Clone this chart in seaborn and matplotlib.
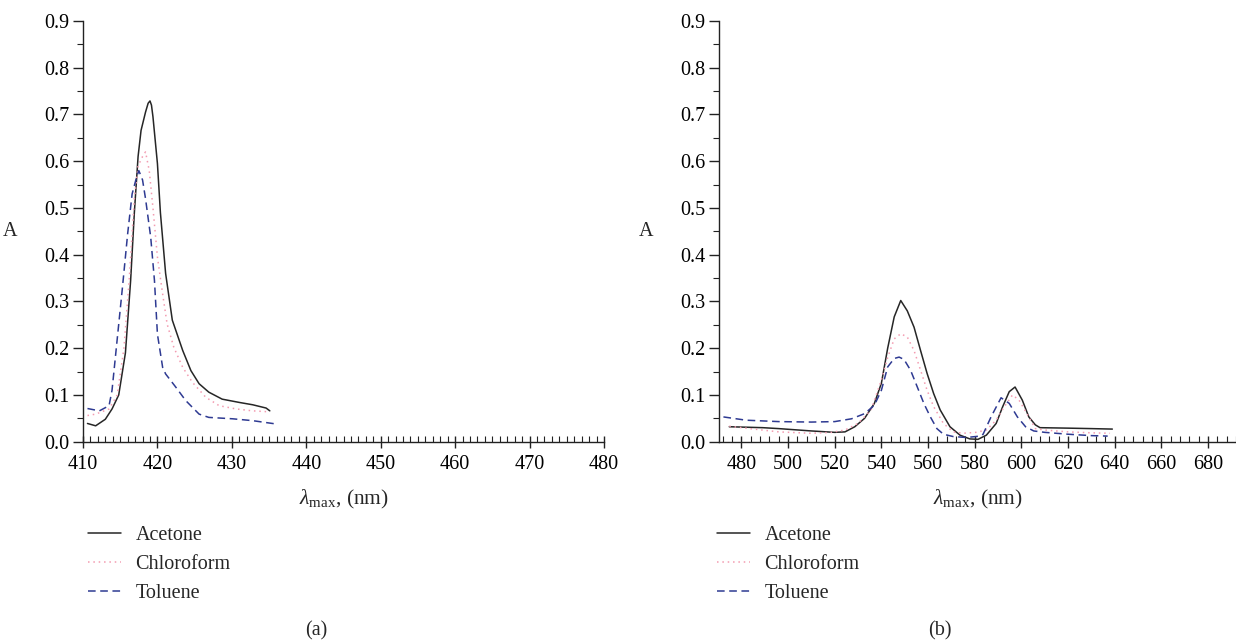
import numpy as np
import pandas as pd
import matplotlib
matplotlib.use("Agg")
import matplotlib.pyplot as plt
import seaborn as sns
from matplotlib.ticker import MultipleLocator

# ---------------- data: panel (a) ----------------
a_acetone_x = [410.6, 411.7, 413.0, 413.9, 414.8, 415.7, 416.4, 416.9, 417.4, 417.8, 418.4,
               418.75, 419.0, 419.2, 419.4, 420.0, 420.4, 421.1, 422.0, 423.4, 424.5, 425.6,
               426.9, 428.7, 431.0, 432.8, 434.6, 435.1]
a_acetone_y = [0.039, 0.034, 0.048, 0.070, 0.100, 0.190, 0.345, 0.490, 0.610, 0.666, 0.705,
               0.724, 0.729, 0.720, 0.695, 0.595, 0.490, 0.360, 0.260, 0.195, 0.152, 0.124,
               0.106, 0.091, 0.084, 0.079, 0.072, 0.066]
a_chloro_x = [410.6, 411.7, 413.5, 414.6, 415.5, 416.2, 416.9, 417.4, 418.0, 418.4, 418.9,
              419.4, 420.0, 420.7, 421.3, 422.2, 423.4, 424.7, 426.5, 428.3, 430.6, 432.8, 435.0]
a_chloro_y = [0.056, 0.059, 0.070, 0.100, 0.200, 0.345, 0.520, 0.590, 0.610, 0.620, 0.580,
              0.500, 0.395, 0.316, 0.252, 0.202, 0.159, 0.127, 0.095, 0.077, 0.070, 0.066, 0.064]
a_toluene_x = [410.6, 412.2, 413.5, 413.9, 414.6, 415.3, 416.0, 416.6, 417.1, 417.5, 418.0,
               418.4, 419.1, 419.6, 420.0, 420.7, 421.1, 422.5, 423.8, 425.6, 426.9, 430.1,
               432.8, 435.9]
a_toluene_y = [0.071, 0.066, 0.077, 0.110, 0.220, 0.330, 0.445, 0.530, 0.560, 0.580, 0.560,
               0.520, 0.437, 0.345, 0.230, 0.159, 0.145, 0.116, 0.088, 0.059, 0.052, 0.049,
               0.045, 0.038]

# ---------------- data: panel (b) ----------------
b_acetone_x = [474.8, 489.2, 496.0, 510.0, 520.0, 524.4, 528.6, 532.8, 537.0, 540.0, 542.7,
               545.5, 548.3, 551.1, 554.0, 556.8, 559.6, 562.4, 565.2, 569.4, 573.7, 577.9,
               581.4, 585.0, 589.2, 592.0, 594.8, 597.3, 600.4, 603.2, 606.0, 608.0, 620.0,
               630.0, 639.0]
b_acetone_y = [0.032, 0.030, 0.028, 0.023, 0.020, 0.021, 0.032, 0.050, 0.082, 0.125, 0.200,
               0.267, 0.302, 0.280, 0.245, 0.195, 0.146, 0.103, 0.068, 0.032, 0.014, 0.006,
               0.005, 0.014, 0.039, 0.075, 0.107, 0.117, 0.089, 0.053, 0.036, 0.030, 0.029,
               0.028, 0.027]
b_chloro_x = [474.8, 496.0, 510.0, 518.7, 524.4, 530.0, 535.6, 540.0, 542.7, 545.5, 548.3,
              551.1, 554.0, 556.8, 559.6, 562.4, 566.6, 570.8, 575.0, 580.6, 585.0, 589.2,
              592.7, 596.2, 599.0, 603.2, 606.0, 610.0, 620.0, 630.0, 638.0]
b_chloro_y = [0.033, 0.021, 0.018, 0.020, 0.025, 0.039, 0.068, 0.132, 0.180, 0.220, 0.231,
              0.224, 0.195, 0.153, 0.110, 0.075, 0.039, 0.021, 0.018, 0.020, 0.025, 0.046,
              0.075, 0.100, 0.089, 0.053, 0.028, 0.025, 0.021, 0.019, 0.018]
b_toluene_x = [472.3, 482.0, 496.0, 510.0, 520.0, 527.2, 532.8, 537.0, 540.0, 542.7, 545.5,
               547.6, 549.7, 552.5, 555.4, 558.2, 561.0, 563.8, 566.6, 570.8, 576.5, 582.2,
               583.6, 587.0, 591.3, 594.8, 598.3, 601.8, 605.3, 610.0, 620.0, 630.0, 637.0]
b_toluene_y = [0.053, 0.046, 0.043, 0.042, 0.043, 0.049, 0.060, 0.078, 0.110, 0.160, 0.178,
               0.181, 0.176, 0.153, 0.117, 0.082, 0.053, 0.028, 0.016, 0.011, 0.009, 0.012,
               0.016, 0.053, 0.094, 0.082, 0.053, 0.032, 0.023, 0.020, 0.016, 0.013, 0.012]

solvents = ["Acetone", "Chloroform", "Toluene"]
colors = {"Acetone": "#262626", "Chloroform": "#f39bb0", "Toluene": "#2e3a92"}
dashes = {"Acetone": "", "Chloroform": (1, 2.5), "Toluene": (5, 3)}


def make_df(xs, ys):
    frames = []
    for name, x, y in zip(solvents, xs, ys):
        frames.append(pd.DataFrame({"wl": x, "A": y, "solvent": name}))
    return pd.concat(frames, ignore_index=True)


df_a = make_df([a_acetone_x, a_chloro_x, a_toluene_x], [a_acetone_y, a_chloro_y, a_toluene_y])
df_b = make_df([b_acetone_x, b_chloro_x, b_toluene_x], [b_acetone_y, b_chloro_y, b_toluene_y])

sns.set_theme(style="ticks")
plt.rcParams["font.family"] = ["Liberation Serif", "DejaVu Serif"]
plt.rcParams["mathtext.fontset"] = "custom"
plt.rcParams["mathtext.rm"] = "Liberation Serif"
plt.rcParams["mathtext.it"] = "Liberation Serif:italic"
plt.rcParams["axes.edgecolor"] = "#222222"
plt.rcParams["lines.solid_joinstyle"] = "round"

FS = 14.5
W, H = 1236, 641
fig = plt.figure(figsize=(W / 100, H / 100), dpi=100)

ax_a = fig.add_axes([83 / W, 1 - 441.7 / H, (604 - 83) / W, (441.7 - 21) / H])
ax_b = fig.add_axes([719 / W, 1 - 441.7 / H, (1236 - 719) / W, (441.7 - 21) / H])

panels = [
    (ax_a, df_a, (410, 480), 10, 1, 88, "(a)", 316),
    (ax_b, df_b, (470.4, 692), 20, 4, 717, "(b)", 940),
]

for ax, df, xlim, xmaj, xmin, leg_x, tag, tag_x in panels:
    sns.lineplot(data=df, x="wl", y="A", hue="solvent", style="solvent",
                 palette=colors, dashes=dashes, sort=False, estimator=None,
                 linewidth=1.1, ax=ax, legend=True)
    ax.set_xlim(*xlim)
    ax.set_ylim(0, 0.9)
    ax.xaxis.set_major_locator(MultipleLocator(xmaj))
    ax.xaxis.set_minor_locator(MultipleLocator(xmin))
    ax.yaxis.set_major_locator(MultipleLocator(0.1))
    ax.yaxis.set_minor_locator(MultipleLocator(0.05))
    ax.yaxis.set_major_formatter(matplotlib.ticker.FormatStrFormatter("%.1f"))
    for s in ["top", "right"]:
        ax.spines[s].set_visible(False)
    for s in ["left", "bottom"]:
        ax.spines[s].set_linewidth(1.0)
    ax.tick_params(axis="x", which="both", bottom=True, top=False)
    ax.tick_params(axis="y", which="both", left=True, right=False)
    ax.tick_params(axis="x", which="major", direction="inout", length=9, width=1,
                   labelsize=FS, pad=5, color="#222222", labelcolor="black")
    ax.tick_params(axis="x", which="minor", direction="in", length=4, width=0.8,
                   color="#222222")
    ax.tick_params(axis="y", which="major", direction="out", length=7, width=1,
                   labelsize=FS, pad=3, color="#222222", labelcolor="black")
    ax.tick_params(axis="y", which="minor", direction="out", length=4, width=0.8,
                   color="#222222")
    ax.set_xlabel(r"$\lambda_{\rm max}$, (nm)", fontsize=FS + 1, labelpad=10)
    ax.set_ylabel("A", fontsize=FS, rotation=0, labelpad=24, va="center")
    ax.grid(False)

    handles, labels = ax.get_legend_handles_labels()
    ax.legend(handles, labels, loc="upper left",
              bbox_to_anchor=(leg_x / W, 1 - 526 / H), bbox_transform=fig.transFigure,
              frameon=False, fontsize=FS, handlelength=1.65, handletextpad=0.7,
              borderpad=0, borderaxespad=0, labelspacing=0.5)
    fig.text(tag_x / W, 1 - 631 / H, tag, fontsize=FS, ha="center", va="center")

fig.savefig("out.png", dpi=100)
